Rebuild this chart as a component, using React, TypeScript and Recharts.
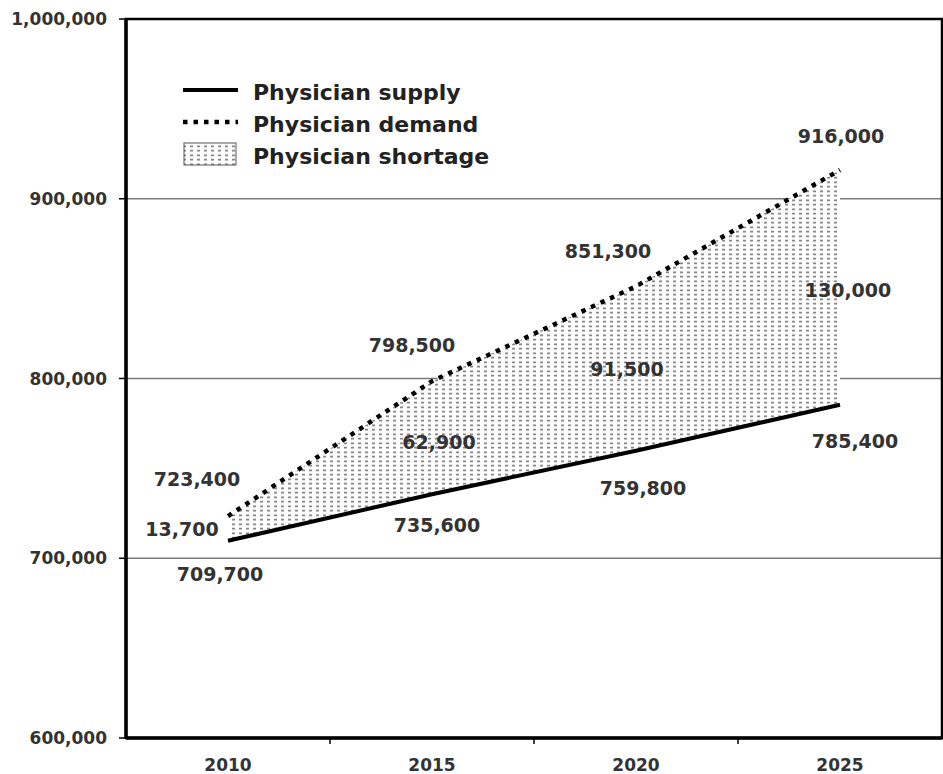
import React from 'react';
import { ComposedChart, Area, Line, XAxis, YAxis, CartesianGrid, LabelList, ReferenceArea } from 'recharts';

const years = ['2010', '2015', '2020', '2025'];
const supply = [709700, 735600, 759800, 785400];
const demand = [723400, 798500, 851300, 916000];
const shortage = [13700, 62900, 91500, 130000];
const yTicks = [600000, 700000, 800000, 900000, 1000000];
const xTicks = [0, 0.5, 1, 1.5, 2, 2.5, 3];
const legendLabels = ['Physician supply', 'Physician demand', 'Physician shortage'];

// label offsets in pixels relative to their anchor point (layout only)
const demandLabelOffset = [[-31, -37], [-20, -36], [-28, -35], [1, -34]];
const supplyLabelOffset = [[-8, 33], [5, 31], [7, 37], [15, 36]];
const shortageLabelOffset = [[-46, 0], [7, 4], [-9, 0], [8, 3]];

const data = years.map((y, i) => ({
  idx: i,
  year: y,
  supply: supply[i],
  demand: demand[i],
  range: [supply[i], demand[i]],
  mid: (supply[i] + demand[i]) / 2,
  shortage: shortage[i],
}));

const FONT = 'DejaVu Sans';
const fmt = (v: number) => v.toLocaleString('en-US');

const makeLabel = (values: number[], offsets: number[][]) => (props: any) => {
  const vb = props.viewBox || {};
  const x = props.x ?? vb.x;
  const y = props.y ?? vb.y;
  const i = values.indexOf(Number(props.value));
  if (i < 0 || x == null || y == null) return null;
  const [dx, dy] = offsets[i];
  return (
    <text
      x={x + dx}
      y={y + dy}
      textAnchor="middle"
      dominantBaseline="central"
      fontFamily={FONT}
      fontWeight="bold"
      fontSize={19}
      fill="#333"
    >
      {fmt(values[i])}
    </text>
  );
};

const XTick = (props: any) => {
  const { x, y, payload } = props;
  const v = payload.value;
  if (Number.isInteger(v)) {
    return (
      <text x={x} y={y} dy="0.71em" textAnchor="middle" fontFamily={FONT} fontWeight="bold" fontSize={17} fill="#333">
        {years[v]}
      </text>
    );
  }
  return <line x1={x} x2={x} y1={y - 21} y2={y - 15} stroke="#000" strokeWidth={1.5} />;
};

export default function App() {
  return (
    <div style={{ position: 'absolute', left: 0, top: 0, width: 943, height: 774, background: '#fff' }}>
      <ComposedChart width={943} height={774} data={data} margin={{ top: 19, right: 1, bottom: 0, left: 0 }}>
        <CartesianGrid horizontal vertical={false} stroke="#7a7a7a" strokeWidth={1.5} />
        <XAxis
          type="number"
          dataKey="idx"
          domain={[-0.5, 3.5]}
          ticks={xTicks}
          interval={0}
          allowDataOverflow
          tickLine={false}
          tickSize={5}
          tickMargin={16}
          height={36}
          axisLine={{ stroke: '#000', strokeWidth: 3.5 }}
          tick={<XTick />}
        />
        <YAxis
          type="number"
          domain={[600000, 1000000]}
          ticks={yTicks}
          interval={0}
          allowDataOverflow
          width={126}
          tickFormatter={fmt}
          axisLine={{ stroke: '#000', strokeWidth: 3.5 }}
          tickLine={{ stroke: '#000', strokeWidth: 1.5 }}
          tickSize={7}
          tickMargin={12}
          tick={{ fill: '#333', fontSize: 17, fontWeight: 'bold', fontFamily: FONT }}
        />
        <Area
          dataKey="range"
          type="linear"
          fill="url(#shortageDots)"
          fillOpacity={1}
          stroke="none"
          isAnimationActive={false}
          activeDot={false}
        />
        <ReferenceArea x1={-0.5} x2={3.5} y1={600000} y2={1000000} fill="none" stroke="#000" strokeWidth={2.5} ifOverflow="visible" />
        <Line dataKey="supply" type="linear" stroke="#000" strokeWidth={4} dot={false} activeDot={false} isAnimationActive={false}>
          <LabelList dataKey="supply" content={makeLabel(supply, supplyLabelOffset)} />
        </Line>
        <Line
          dataKey="demand"
          type="linear"
          stroke="#000"
          strokeWidth={4.5}
          strokeDasharray="4.5 6"
          dot={false}
          activeDot={false}
          isAnimationActive={false}
        >
          <LabelList dataKey="demand" content={makeLabel(demand, demandLabelOffset)} />
        </Line>
        <Line dataKey="mid" type="linear" stroke="none" dot={false} activeDot={false} isAnimationActive={false}>
          <LabelList dataKey="shortage" content={makeLabel(shortage, shortageLabelOffset)} />
        </Line>
      </ComposedChart>
      <svg
        width={943}
        height={774}
        style={{ position: 'absolute', left: 0, top: 0, pointerEvents: 'none' }}
      >
        <defs>
          <pattern id="shortageDots" patternUnits="userSpaceOnUse" width={7} height={4.5}>
            <rect x={0} y={0} width={7} height={4.5} fill="#fff" />
            <rect x={1} y={1.5} width={3} height={1.5} fill="#6e6e6e" />
          </pattern>
        </defs>
        <line x1={183} x2={238} y1={90} y2={90} stroke="#000" strokeWidth={4} />
        <line x1={183} x2={238} y1={122} y2={122} stroke="#000" strokeWidth={4.5} strokeDasharray="4.5 6" />
        <rect x={184} y={143} width={52} height={22} fill="url(#shortageDots)" stroke="#555" strokeWidth={1} />
        {legendLabels.map((t, i) => (
          <text
            key={t}
            x={253}
            y={92 + i * 32}
            dominantBaseline="central"
            fontFamily={FONT}
            fontWeight="bold"
            fontSize={22}
            fill="#222"
          >
            {t}
          </text>
        ))}
      </svg>
    </div>
  );
}
